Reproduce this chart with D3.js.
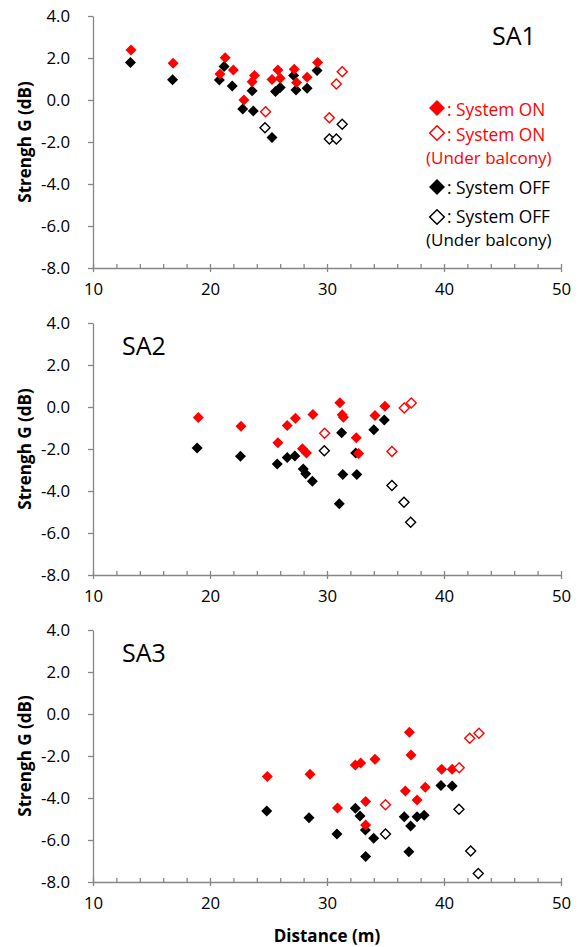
<!DOCTYPE html>
<html>
<head>
<meta charset="utf-8">
<script src="https://cdn.jsdelivr.net/npm/d3@7"></script>
<style>
body { margin: 0; background: #fff; }
text { font-family: "Open Sans", sans-serif; }
</style>
</head>
<body>
<div id="chart"></div>
<script>
// values: [distance (m), strength G (dB)]
var sa1On = [[13.25,2.38],[16.85,1.75],[20.85,1.24],[21.3,2.01],[22.0,1.43],[22.9,0.0],[23.6,0.87],[23.8,1.17],
             [25.3,0.98],[25.8,1.43],[26.0,1.03],[27.2,1.46],[27.4,0.83],[28.3,1.08],[29.2,1.79]];
var sa1OnUB = [[24.75,-0.56],[30.2,-0.84],[30.8,0.76],[31.3,1.35]];
var sa1Off = [[13.2,1.78],[16.8,0.97],[20.8,0.95],[21.2,1.59],[21.9,0.67],[22.8,-0.43],[23.6,0.44],[23.7,-0.52],
              [25.3,-1.79],[25.6,0.40],[26.0,0.60],[27.15,1.17],[27.35,0.48],[28.3,0.56],[29.15,1.41]];
var sa1OffUB = [[24.7,-1.32],[30.2,-1.86],[30.8,-1.86],[31.3,-1.16]];

var sa2On = [[19.0,-0.5],[22.65,-0.92],[25.8,-1.7],[26.6,-0.88],[27.3,-0.53],[27.9,-1.99],[28.25,-2.19],[28.8,-0.36],
             [31.1,0.2],[31.3,-0.37],[31.4,-0.49],[32.5,-1.46],[32.7,-2.22],[34.1,-0.4],[34.95,0.03]];
var sa2OnUB = [[29.8,-1.25],[35.55,-2.12],[36.6,-0.05],[37.2,0.19]];
var sa2Off = [[18.9,-1.95],[22.6,-2.35],[25.75,-2.71],[26.6,-2.4],[27.25,-2.33],[27.97,-2.95],[28.18,-3.18],[28.75,-3.54],
              [31.05,-4.61],[31.25,-1.23],[31.35,-3.22],[32.45,-2.19],[32.55,-3.22],[34.0,-1.08],[34.9,-0.62]];
var sa2OffUB = [[29.77,-2.08],[35.55,-3.74],[36.58,-4.54],[37.15,-5.49]];

var sa3On = [[24.9,-2.98],[28.55,-2.87],[30.9,-4.48],[32.42,-2.43],[32.88,-2.33],[33.3,-4.17],[33.3,-5.29],[34.1,-2.16],
             [36.7,-3.67],[37.04,-0.87],[37.18,-1.95],[37.7,-4.1],[38.4,-3.49],[39.8,-2.63],[40.7,-2.63]];
var sa3OnUB = [[35.0,-4.32],[41.3,-2.56],[42.2,-1.16],[42.99,-0.92]];
var sa3Off = [[24.85,-4.62],[28.46,-4.94],[30.85,-5.71],[32.42,-4.49],[32.82,-4.86],[33.28,-5.52],[33.3,-6.79],[33.99,-5.92],
              [36.6,-4.89],[37.0,-6.56],[37.15,-5.33],[37.7,-4.89],[38.3,-4.82],[39.74,-3.4],[40.7,-3.43]];
var sa3OffUB = [[35.0,-5.71],[41.28,-4.54],[42.28,-6.52],[42.93,-7.59]];

var panelNames = ["SA1", "SA2", "SA3"];
var xTicks = [10, 20, 30, 40, 50];
var yTicks = [-8, -6, -4, -2, 0, 2, 4];
var legendLabels = [": System ON", ": System ON", ": System OFF", ": System OFF"];
var legendNote = "(Under balcony)";

var panels = [
  {name: panelNames[0], on: sa1On, onUB: sa1OnUB, off: sa1Off, offUB: sa1OffUB},
  {name: panelNames[1], on: sa2On, onUB: sa2OnUB, off: sa2Off, offUB: sa2OffUB},
  {name: panelNames[2], on: sa3On, onUB: sa3OnUB, off: sa3Off, offUB: sa3OffUB}
];

var W = 581, H = 947;
var plotTop = [16, 323, 630];
var plotH = 252;
var axisColor = "#868686";
var red = "#ff0000";

var svg = d3.select("#chart").append("svg")
    .attr("width", W)
    .attr("height", H);
svg.append("rect").attr("width", W).attr("height", H).attr("fill", "#fff");

var x = d3.scaleLinear().domain([10, 50]).range([93, 561]);

function diamond(r) {
  return "M0," + (-r) + "L" + r + ",0L0," + r + "L" + (-r) + ",0Z";
}

function styleAxis(g) {
  g.selectAll("path, line").attr("stroke", axisColor).attr("stroke-width", 1.3);
  g.selectAll("text").attr("fill", "#000")
    .attr("font-family", "'Open Sans', sans-serif").attr("font-size", 16.8);
}

panels.forEach(function(p, i) {
  var top = plotTop[i];
  var y = d3.scaleLinear().domain([-8, 4]).range([top + plotH, top]);
  var g = svg.append("g");

  // minor ticks every 2 m, pointing inward
  var minor = g.append("g")
      .attr("transform", "translate(0," + y(-8) + ")")
      .call(d3.axisBottom(x)
        .tickValues(d3.range(12, 50, 2).filter(function(v) { return v % 10 !== 0; }))
        .tickSize(-4).tickSizeOuter(0).tickFormat(""));
  minor.select(".domain").remove();
  styleAxis(minor);

  // major ticks cross the axis
  var xa = g.append("g")
      .attr("transform", "translate(0," + y(-8) + ")")
      .call(d3.axisBottom(x).tickValues(xTicks).tickSize(4).tickSizeOuter(0).tickPadding(11));
  xa.selectAll(".tick line").attr("y1", -4);
  styleAxis(xa);

  var ya = g.append("g")
      .attr("transform", "translate(" + x(10) + ",0)")
      .call(d3.axisLeft(y).tickValues(yTicks).tickSize(5).tickSizeOuter(0).tickPadding(18)
        .tickFormat(function(d) { return d.toFixed(1); }));
  styleAxis(ya);

  g.append("text")
      .attr("transform", "translate(25," + y(-2) + ") rotate(-90)")
      .attr("text-anchor", "middle")
      .attr("dy", "0.35em")
      .attr("font-weight", "bold")
      .attr("font-size", 17)
      .text("Strengh G (dB)");

  // panel name
  g.append("text")
      .attr("x", i === 0 ? 492 : 122)
      .attr("y", top + (i === 0 ? 29 : 32))
      .attr("font-size", 25)
      .text(p.name);

  // markers: system OFF first, then system ON on top
  function dots(data, color, open) {
    g.selectAll(null)
      .data(data)
      .enter()
      .append("path")
        .attr("transform", function(d) { return "translate(" + x(d[0]) + "," + y(d[1]) + ")"; })
        .attr("d", open ? diamond(5) : diamond(5.5))
        .attr("fill", open ? "#fff" : color)
        .attr("stroke", open ? color : "none")
        .attr("stroke-width", 1.4);
  }
  dots(p.off, "#000", false);
  dots(p.offUB, "#000", true);
  dots(p.on, red, false);
  dots(p.onUB, red, true);
});

// legend (inside first panel)
var legendRows = [
  {label: legendLabels[0], color: red, open: false, cy: 108, base: 116},
  {label: legendLabels[1], color: red, open: true, cy: 133, base: 141},
  {label: legendLabels[2], color: "#000", open: false, cy: 187, base: 194},
  {label: legendLabels[3], color: "#000", open: true, cy: 217, base: 223}
];
var lg = svg.append("g");
legendRows.forEach(function(r) {
  lg.append("path")
    .attr("transform", "translate(437," + r.cy + ")")
    .attr("d", r.open ? diamond(7.3) : diamond(8))
    .attr("fill", r.open ? "#fff" : r.color)
    .attr("stroke", r.open ? r.color : "none")
    .attr("stroke-width", 1.5);
  lg.append("text")
    .attr("x", 447).attr("y", r.base)
    .attr("font-size", 17.3)
    .attr("fill", r.color)
    .text(r.label);
  if (r.open) {
    lg.append("text")
      .attr("x", 426).attr("y", r.base + 23)
      .attr("font-size", 17)
      .attr("fill", r.color)
      .text(legendNote);
  }
});

svg.append("text")
    .attr("x", (x(10) + x(50)) / 2)
    .attr("y", 942)
    .attr("text-anchor", "middle")
    .attr("font-weight", "bold")
    .attr("font-size", 17)
    .text("Distance (m)");
</script>
</body>
</html>
